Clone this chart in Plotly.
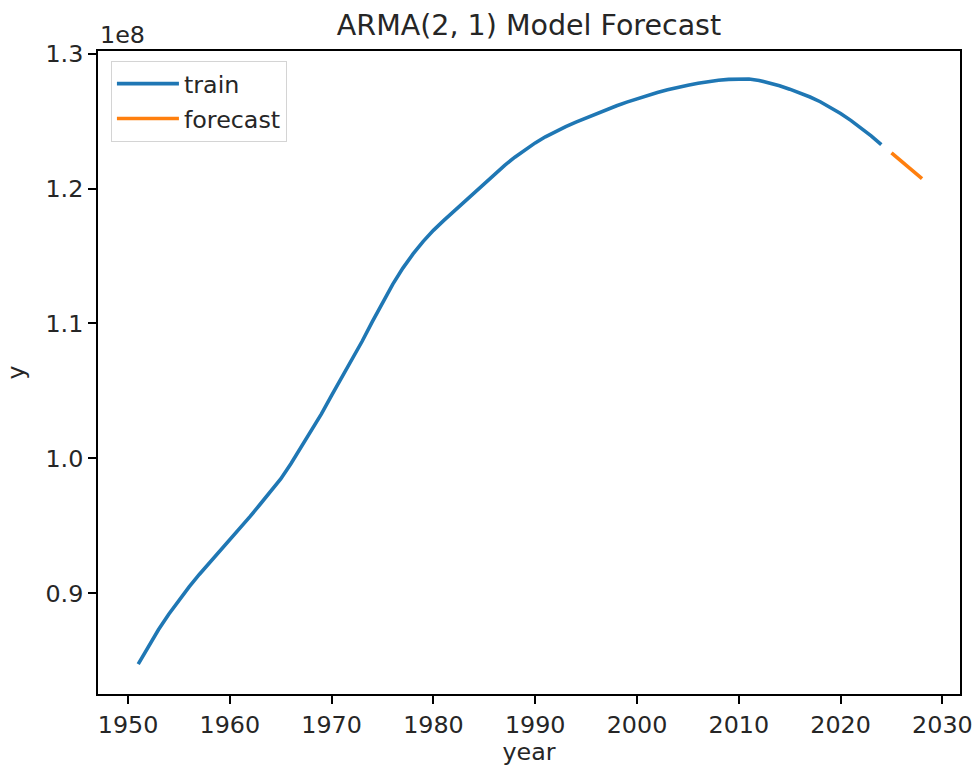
import plotly.graph_objects as go

# ---- data (values in persons, in units of 1e8) ----
train_years = list(range(1951, 2025))
train_vals_e8 = [
    0.8475, 0.8608, 0.8732, 0.8845, 0.8950, 0.9048, 0.9140, 0.9225, 0.9308,          # 1951-1959
    0.9393, 0.9480, 0.9570, 0.9662, 0.9752, 0.9848, 0.9960, 1.0085, 1.0200, 1.0330,  # 1960-1969
    1.0467, 1.0597, 1.0730, 1.0868, 1.1013, 1.1158, 1.1290, 1.1410, 1.1515, 1.1608,  # 1970-1979
    1.1690, 1.1762, 1.1830, 1.1900, 1.1970, 1.2040, 1.2108, 1.2172, 1.2232, 1.2287,  # 1980-1989
    1.2338, 1.2383, 1.2423, 1.2459, 1.2492, 1.2524, 1.2555, 1.2585, 1.2613, 1.2640,  # 1990-1999
    1.2665, 1.2689, 1.2711, 1.2731, 1.2750, 1.2766, 1.2780, 1.2792, 1.2802, 1.2809,  # 2000-2009
    1.2813, 1.2812, 1.2801, 1.2783, 1.2761, 1.2736, 1.2709, 1.2678, 1.2643, 1.2602,  # 2010-2019
    1.2556, 1.2505, 1.2450, 1.2390, 1.2325,                                          # 2020-2024
]
forecast_years = [2025, 2026, 2027, 2028]
forecast_vals_e8 = [1.2264, 1.2200, 1.2137, 1.2074]

train_vals = [v * 1e8 for v in train_vals_e8]
forecast_vals = [v * 1e8 for v in forecast_vals_e8]

x_ticks = [1950, 1960, 1970, 1980, 1990, 2000, 2010, 2020, 2030]
y_ticks = [0.9e8, 1.0e8, 1.1e8, 1.2e8, 1.3e8]
y_ticktext = ["0.9", "1.0", "1.1", "1.2", "1.3"]

FONT = "DejaVu Sans"
TXT = "#262626"
FS = 23.8
TITLE_FS = 28.5

fig = go.Figure()
fig.add_trace(go.Scatter(x=train_years, y=train_vals, mode="lines", name="train",
                         legendgroup="a", line=dict(color="#1f77b4", width=3.6)))
fig.add_trace(go.Scatter(x=forecast_years, y=forecast_vals, mode="lines", name="forecast",
                         legendgroup="b", line=dict(color="#ff7f0e", width=3.6)))

axis_common = dict(
    automargin=False,
    showgrid=False, zeroline=False, showline=True, mirror=True,
    linecolor="black", linewidth=1.9,
    ticks="outside", ticklen=8, tickwidth=1.9, tickcolor="black",
    tickfont=dict(family=FONT, size=FS, color=TXT),
)

fig.update_layout(
    template="none",
    width=977, height=766,
    margin=dict(l=98, r=17, t=51, b=72, autoexpand=False),
    paper_bgcolor="white", plot_bgcolor="white",
    font=dict(family=FONT, color=TXT),
    title=dict(text="ARMA(2, 1) Model Forecast", x=(98 + 960) / 2 / 977, xanchor="center",
               y=1 - 25 / 766, yanchor="middle",
               font=dict(family=FONT, size=TITLE_FS, color=TXT)),
    xaxis=dict(range=[1947.05, 2031.73], tickvals=x_ticks,
               title=dict(text="year", font=dict(family=FONT, size=FS, color=TXT), standoff=11),
               **axis_common),
    yaxis=dict(range=[0.8254e8, 1.3019e8], tickvals=y_ticks, ticktext=y_ticktext,
               title=dict(text="y", font=dict(family=FONT, size=FS, color=TXT), standoff=14),
               **axis_common),
    legend=dict(x=0.015, y=0.985, xanchor="left", yanchor="top",
                bgcolor="rgba(255,255,255,0.8)", bordercolor="#d4d4d4", borderwidth=1,
                font=dict(family=FONT, size=FS, color=TXT),
                traceorder="grouped", tracegroupgap=1, itemwidth=62),
    showlegend=True,
)

fig.add_annotation(text="1e8", xref="paper", yref="paper", x=0, y=1,
                   xanchor="left", yanchor="bottom", yshift=0, showarrow=False,
                   font=dict(family=FONT, size=FS, color=TXT))

fig.write_html("out.html")
